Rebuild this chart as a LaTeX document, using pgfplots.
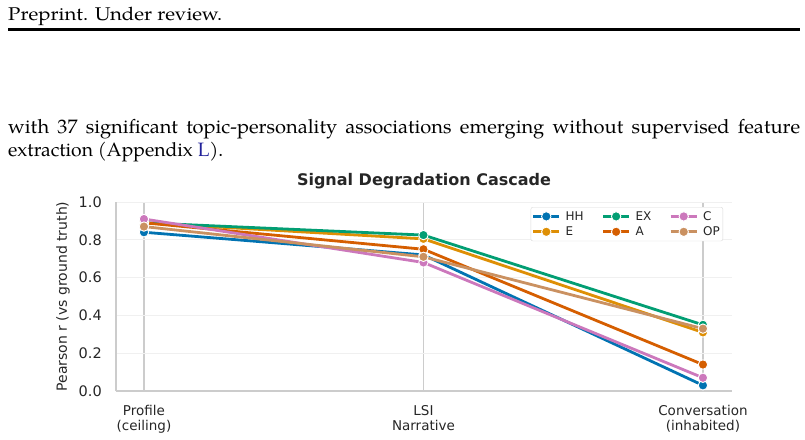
\documentclass[border=0pt]{standalone}
\usepackage{fontspec}
\setmainfont{DejaVu Sans}
\newfontfamily\pala{texgyrepagella-regular.otf}
\newfontfamily\palaw[FakeStretch=1.03]{texgyrepagella-regular.otf}
\usepackage{graphicx}
\usepackage{pgfplots}
\pgfplotsset{compat=1.18}
\definecolor{cHH}{HTML}{0173B2}
\definecolor{cE}{HTML}{DE8F05}
\definecolor{cEX}{HTML}{029E73}
\definecolor{cA}{HTML}{D55E00}
\definecolor{cC}{HTML}{CC78BC}
\definecolor{cOP}{HTML}{CA9161}
\definecolor{txt}{HTML}{262626}
\definecolor{linkblue}{HTML}{22229A}
\pgfplotsset{myline/.style={color=#1, line width=2.8bp, mark=*, mark size=4.7bp,
  mark options={fill=#1, draw=white, line width=0.9bp, solid}}}
\begin{document}
\begin{tikzpicture}[x=1bp,y=1bp]
\path[use as bounding box] (0,0) rectangle (805,-440);
\node[anchor=base west, inner sep=0, font=\pala\fontsize{19bp}{23bp}\selectfont] at (8,-20.7)
  {\resizebox{214bp}{13.4bp}{Preprint. Under review.}};
\fill (8,-28.3) rectangle (800,-31);
\node[anchor=base west, inner sep=0, font=\palaw\fontsize{19.5bp}{23bp}\selectfont] at (8,-133.5)
  {\hbox to 792bp{with 37 significant topic-personality associations emerging without supervised feature}};
\node[anchor=base west, inner sep=0, font=\pala\fontsize{19bp}{23bp}\selectfont] at (8,-156.7)
  {\resizebox{215bp}{!}{extraction (Appendix \textcolor{linkblue}{L}).}};
\begin{axis}[
  at={(116bp,-391bp)}, anchor=south west, scale only axis,
  width=616bp, height=189bp,
  xmin=-0.1, xmax=2.104, ymin=0, ymax=1,
  axis x line*=bottom, axis y line*=left,
  axis line style={draw=gray!40, line width=1.1bp, -},
  xtick={0,1,2},
  xticklabels={{Profile\\(ceiling)},{LSI\\Narrative},{Conversation\\(inhabited)}},
  ytick={0,0.2,0.4,0.6,0.8,1.0},
  major tick length=0pt,
  xmajorgrids, ymajorgrids,
  major x grid style={draw=gray!40, line width=1.1bp},
  major y grid style={draw=gray!12, line width=1bp},
  xticklabel style={align=center, inner sep=0pt, yshift=-14bp, text=txt,
    font=\fontsize{13.5bp}{15.5bp}\selectfont},
  yticklabel style={inner sep=0pt, xshift=-14bp, text=txt,
    font=\fontsize{14.5bp}{17bp}\selectfont,
    /pgf/number format/.cd, fixed, fixed zerofill, precision=1, assume math mode=true},
  ylabel={Pearson r (vs ground truth)},
  ylabel style={at={(axis description cs:-0.086,0.5)}, anchor=center, text=txt,
    font=\fontsize{14bp}{16bp}\selectfont},
  title={Signal Degradation Cascade},
  title style={at={(axis description cs:0.5,1)}, anchor=base, yshift=10.6bp, text=txt,
    font=\bfseries\fontsize{16bp}{18bp}\selectfont},
  legend style={at={(axis description cs:0.9854,0.9735)}, anchor=north east,
    draw=gray!30, rounded corners=2bp, fill=white, inner xsep=1bp, inner ysep=2bp,
    font=\fontsize{12bp}{14bp}\selectfont, text=txt,
    nodes={inner sep=2bp}, row sep=1bp,
    /tikz/every odd column/.append style={column sep=3bp},
    /tikz/every even column/.append style={column sep=16bp}},
  legend cell align=left,
  transpose legend, legend columns=2,
  legend image code/.code={\draw[mark repeat=2,mark phase=2,#1] plot coordinates {(0bp,0bp) (13bp,0bp) (26bp,0bp)};},
]
\addplot[myline=cHH] coordinates {(0,0.84) (1,0.72) (2,0.03)};
\addplot[myline=cE] coordinates {(0,0.89) (1,0.805) (2,0.31)};
\addplot[myline=cEX] coordinates {(0,0.89) (1,0.825) (2,0.35)};
\addplot[myline=cA] coordinates {(0,0.89) (1,0.75) (2,0.14)};
\addplot[myline=cC] coordinates {(0,0.91) (1,0.68) (2,0.07)};
\addplot[myline=cOP] coordinates {(0,0.87) (1,0.71) (2,0.33)};
\legend{HH,E,EX,A,C,OP}
\end{axis}
\end{tikzpicture}
\end{document}
